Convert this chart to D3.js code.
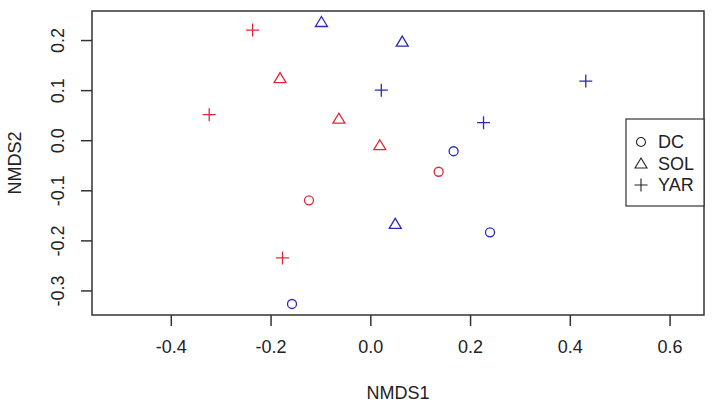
<!DOCTYPE html>
<html>
<head>
<meta charset="utf-8">
<script src="https://cdn.jsdelivr.net/npm/d3@7"></script>
<style>
  body { margin: 0; background: #fff; }
  text { font-family: "Liberation Sans", Arial, sans-serif; fill: #222; }
</style>
</head>
<body>
<svg class="chart" width="714" height="407"></svg>
<script>
// NMDS scores
var nmds1  = [-0.236, -0.098, -0.181, -0.323, -0.063, -0.123, -0.176, -0.157, 0.064, 0.022, 0.432, 0.227, 0.019, 0.167, 0.137, 0.050, 0.240];
var nmds2  = [0.220, 0.236, 0.124, 0.051, 0.043, -0.120, -0.235, -0.327, 0.197, 0.100, 0.118, 0.035, -0.010, -0.022, -0.063, -0.167, -0.184];
var site   = ["YAR", "SOL", "SOL", "YAR", "SOL", "DC", "YAR", "DC", "SOL", "YAR", "YAR", "YAR", "SOL", "DC", "DC", "SOL", "DC"];
var group  = ["r", "b", "r", "r", "r", "r", "r", "b", "b", "b", "b", "b", "r", "b", "r", "b", "b"];
var legendLabels = ["DC", "SOL", "YAR"];
var xTicks = [-0.4, -0.2, 0.0, 0.2, 0.4, 0.6];
var yTicks = [-0.3, -0.2, -0.1, 0.0, 0.1, 0.2];

(function () {
    var svg = d3.select(".chart"),
        margin = {top: 11, right: 10, bottom: 92, left: 92},
        width = +svg.attr("width") - margin.left - margin.right,
        height = +svg.attr("height") - margin.top - margin.bottom,
        g = svg.append("g").attr("transform", "translate(" + margin.left + "," + margin.top + ")");

    var colors = {r: "#e0283a", b: "#2a2ab8"};

    var x = d3.scaleLinear().domain([-0.558, 0.669]).range([0, width]);
    var y = d3.scaleLinear().domain([-0.349, 0.258]).range([height, 0]);

    var fmt = function (d) { return d.toFixed(1); };

    // x axis
    var gx = g.append("g")
        .attr("transform", "translate(0," + height + ")")
        .call(d3.axisBottom(x).tickValues(xTicks).tickFormat(fmt).tickSize(11).tickPadding(14));
    gx.select(".domain").remove();
    gx.selectAll("line").attr("stroke", "#333").attr("stroke-width", 1.5);
    gx.selectAll("text").style("font-size", "18px").attr("fill", "#222");

    // y axis, labels turned like R's
    var gy = g.append("g")
        .call(d3.axisLeft(y).tickValues(yTicks).tickFormat(fmt).tickSize(11));
    gy.select(".domain").remove();
    gy.selectAll("line").attr("stroke", "#333").attr("stroke-width", 1.5);
    gy.selectAll("text")
        .style("font-size", "18px")
        .attr("fill", "#222")
        .attr("x", null).attr("dy", null)
        .attr("text-anchor", "middle")
        .attr("transform", "translate(-28,0) rotate(-90)")
        .attr("y", 0);

    // plot box
    g.append("rect")
        .attr("width", width).attr("height", height)
        .attr("fill", "none").attr("stroke", "#333").attr("stroke-width", 1.5);

    // axis titles
    svg.append("text")
        .attr("x", margin.left + width / 2).attr("y", 399)
        .attr("text-anchor", "middle").style("font-size", "18px")
        .text("NMDS1");
    svg.append("text")
        .attr("transform", "translate(21," + (margin.top + height / 2) + ") rotate(-90)")
        .attr("text-anchor", "middle").style("font-size", "18px")
        .text("NMDS2");

    // marker shapes
    function marker(sel, kind) {
        if (kind === "DC") {
            sel.append("circle").attr("r", 4.5);
        } else if (kind === "SOL") {
            sel.append("path").attr("d", "M0,-5.5L6,4.5L-6,4.5Z");
        } else {
            sel.append("path").attr("d", "M-6.5,0H6.5M0,-6.5V6.5");
        }
    }

    var pts = g.selectAll(".pt")
        .data(nmds1.map(function (d, i) { return i; }))
        .enter()
        .append("g")
        .attr("class", "pt")
        .attr("transform", function (i) { return "translate(" + x(nmds1[i]) + "," + y(nmds2[i]) + ")"; })
        .attr("fill", "none")
        .attr("stroke-width", 1.3)
        .attr("stroke", function (i) { return colors[group[i]]; });
    pts.each(function (i) { marker(d3.select(this), site[i]); });

    // legend
    var lg = g.append("g").attr("transform", "translate(" + (width - 78) + "," + (119 - margin.top) + ")");
    lg.append("rect").attr("width", 78).attr("height", 87)
        .attr("fill", "#fff").attr("stroke", "#333").attr("stroke-width", 1.2);
    var rows = lg.selectAll(".row").data(legendLabels).enter().append("g")
        .attr("transform", function (d, i) { return "translate(15," + (23 + i * 21.5) + ")"; });
    rows.append("g").attr("fill", "none").attr("stroke", "#222").attr("stroke-width", 1.1)
        .each(function (d) { marker(d3.select(this), d); });
    rows.append("text").attr("x", 17).attr("dy", "0.36em")
        .style("font-size", "18px").text(function (d) { return d; });
})();
</script>
</body>
</html>
